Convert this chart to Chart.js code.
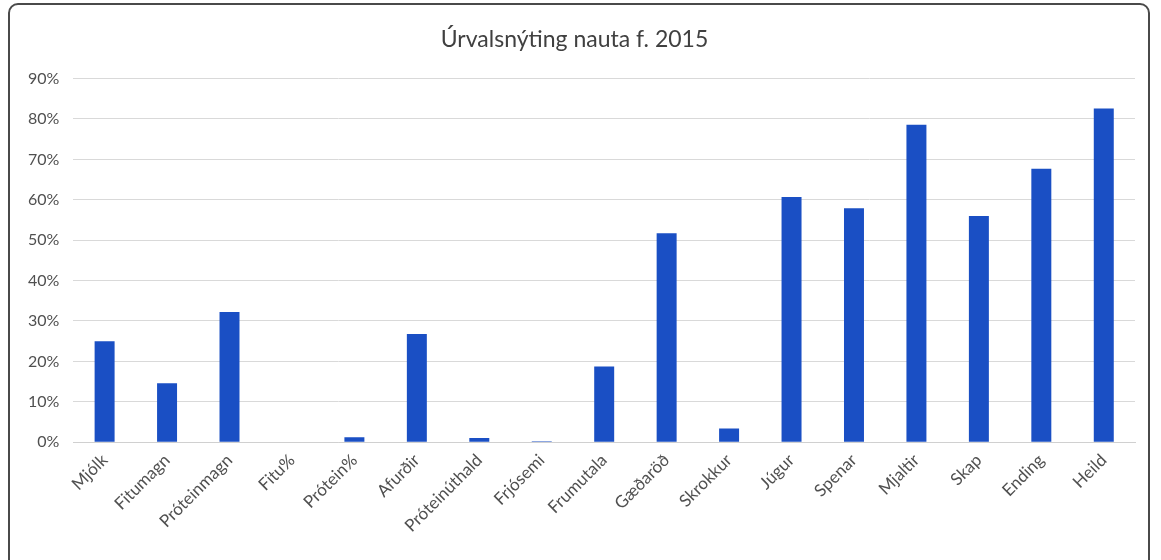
<!DOCTYPE html>
<html><head><meta charset="utf-8">
<script src="https://cdn.jsdelivr.net/npm/chart.js@4.4.1/dist/chart.umd.min.js"></script>
<style>
html,body{margin:0;padding:0;background:#fff;}
#wrap{position:relative;width:1161px;height:560px;overflow:hidden;}
#frame{position:absolute;left:8px;top:3px;width:1142px;height:580px;border:2px solid #4a4a4a;border-radius:10px;box-sizing:border-box;}
canvas{position:absolute;left:0;top:0;}
</style></head>
<body><div id="wrap"><div id="frame"></div><canvas id="c" width="1161" height="560"></canvas></div>
<script>
const chartTitle = 'Úrvalsnýting nauta f. 2015';
const categories = ['Mjólk','Fitumagn','Próteinmagn','Fitu%','Prótein%','Afurðir','Próteinúthald','Frjósemi','Frumutala','Gæðaröð','Skrokkur','Júgur','Spenar','Mjaltir','Skap','Ending','Heild'];
const values = [25, 14.6, 32.2, 0, 1.2, 26.8, 1.0, 0.2, 18.7, 51.7, 3.4, 60.7, 57.9, 78.6, 56.0, 67.7, 82.6];
const yMax = 90;
const yStep = 10;

new Chart(document.getElementById('c'), {
  type: 'bar',
  data: {
    labels: categories,
    datasets: [{
      data: values,
      backgroundColor: '#1a4fc4',
      categoryPercentage: 1,
      barPercentage: 0.32
    }]
  },
  options: {
    responsive: false,
    animation: false,
    devicePixelRatio: 1,
    layout: { padding: { left: 14, right: 26, top: 24, bottom: 24 } },
    plugins: {
      legend: { display: false },
      tooltip: { enabled: false },
      title: {
        display: true,
        text: chartTitle,
        color: '#404040',
        font: { family: 'Lato', size: 23, weight: 'normal' },
        padding: { top: 2, bottom: 25 }
      }
    },
    scales: {
      x: {
        grid: { display: false },
        border: { display: true, color: '#d0d0d0' },
        ticks: {
          color: '#505050',
          font: { family: 'Lato', size: 17 },
          minRotation: 45, maxRotation: 45,
          padding: 0
        }
      },
      y: {
        min: 0, max: yMax,
        border: { display: false },
        grid: { color: '#d9d9d9', drawTicks: false },
        ticks: {
          stepSize: yStep,
          color: '#505050',
          font: { family: 'Lato', size: 16 },
          padding: 14,
          callback: v => v + '%'
        }
      }
    }
  }
});
</script>
</body></html>
